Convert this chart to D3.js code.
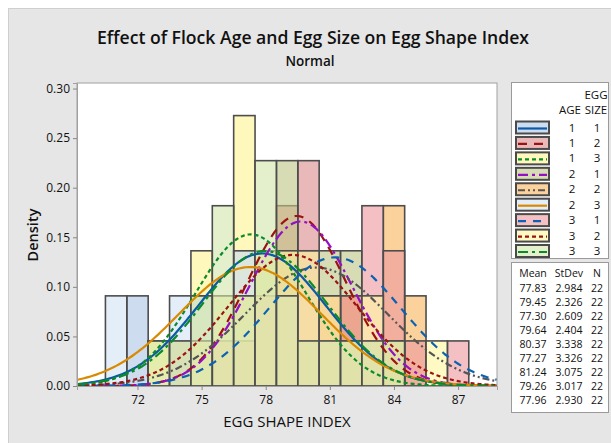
<!DOCTYPE html>
<html>
<head>
<meta charset="utf-8">
<script src="https://d3js.org/d3.v7.min.js"></script>
<style>
  body { margin: 0; background: #fff; }
  text { font-family: "Open Sans", "Noto Sans", sans-serif; fill: #111; }
</style>
</head>
<body>
<div id="chart"></div>
<script>
// Groups: flock age x egg size
var ages = [1, 1, 1, 2, 2, 2, 3, 3, 3];
var sizes = [1, 2, 3, 1, 2, 3, 1, 2, 3];
var means = [77.83, 79.45, 77.30, 79.64, 80.37, 77.27, 81.24, 79.26, 77.96];
var stdevs = [2.984, 2.326, 2.609, 2.404, 3.338, 3.326, 3.075, 3.017, 2.930];
var ns = [22, 22, 22, 22, 22, 22, 22, 22, 22];

// Bin centres (bin width 1) and counts per group
var binCenters = [70, 71, 72, 73, 74, 75, 76, 77, 78, 79, 80, 81, 82, 83, 84, 85, 86, 87, 88];
var counts11 = [0, 0, 2, 0, 1, 2, 2, 3, 3, 3, 2, 1, 1, 1, 1, 0, 0, 0, 0];
var counts12 = [0, 0, 0, 0, 0, 1, 1, 2, 3, 4, 5, 2, 2, 1, 1, 0, 0, 0, 0];
var counts13 = [0, 0, 0, 1, 1, 3, 2, 6, 3, 2, 2, 1, 0, 1, 0, 0, 0, 0, 0];
var counts21 = [0, 0, 0, 0, 1, 0, 1, 1, 3, 5, 3, 3, 3, 1, 1, 0, 0, 0, 0];
var counts22 = [0, 0, 0, 0, 1, 1, 1, 2, 2, 2, 2, 2, 2, 1, 4, 2, 0, 0, 0];
var counts23 = [0, 2, 0, 0, 2, 2, 2, 3, 3, 2, 3, 1, 1, 1, 0, 0, 0, 0, 0];
var counts31 = [0, 0, 0, 0, 0, 0, 1, 1, 2, 2, 3, 2, 2, 4, 3, 1, 0, 1, 0];
var counts32 = [0, 0, 0, 1, 0, 1, 2, 2, 3, 3, 3, 2, 1, 2, 1, 0, 1, 0, 0];
var counts33 = [0, 0, 0, 1, 1, 2, 4, 2, 5, 2, 1, 1, 1, 1, 1, 0, 0, 0, 0];
var countsByGroup = [counts11, counts12, counts13, counts21, counts22, counts23, counts31, counts32, counts33];

var xTicks = [72, 75, 78, 81, 84, 87];
var yTicks = [0, 0.05, 0.10, 0.15, 0.20, 0.25, 0.30];

// Styling per group (colour as seen on white, line colour, dash)
var fillColors = ["#cddcef", "#e9b8b8", "#fff8bc", "#d8dcb4", "#fcd29c", "#e4eef8", "#f4c0c4", "#fffac4", "#e4f0cc"];
var lineColors = ["#0b5aa8", "#9c1212", "#0a8a2a", "#9410c4", "#555555", "#d98a00", "#0b62b4", "#9c1212", "#0a8a2a"];
var dashes = ["none", "9,7", "4,3", "10,4,3,4", "7,3,2,3,2,3", "none", "8,7", "4,3", "10,4,3,4"];
var alpha = 0.62;

var W = 611, H = 443;
var svg = d3.select("#chart").append("svg").attr("width", W).attr("height", H);

// outer panel
svg.append("rect").attr("x", 8.5).attr("y", 8.5).attr("width", W).attr("height", H)
    .attr("fill", "#e6e6e6").attr("stroke", "#cfcfcf");

// titles
svg.append("text").attr("x", 313).attr("y", 44).attr("text-anchor", "middle")
    .style("font-size", "17.6px").style("font-weight", 600)
    .text("Effect of Flock Age and Egg Size on Egg Shape Index");
svg.append("text").attr("x", 310).attr("y", 66).attr("text-anchor", "middle")
    .style("font-size", "13.5px").style("font-weight", 600)
    .text("Normal");

var plot = { left: 77, right: 497, top: 83, bottom: 386 };

var x = d3.scaleLinear().domain([69.17, 88.82]).range([plot.left, plot.right]);
var y = d3.scaleLinear().domain([0, 0.3056]).range([plot.bottom, plot.top]);

svg.append("rect").attr("x", plot.left).attr("y", plot.top)
    .attr("width", plot.right - plot.left).attr("height", plot.bottom - plot.top)
    .attr("fill", "#fff").attr("stroke", "#a0a0a0");

svg.append("clipPath").attr("id", "plotclip").append("rect")
    .attr("x", plot.left).attr("y", plot.top)
    .attr("width", plot.right - plot.left).attr("height", plot.bottom - plot.top);

// base colour that gives the legend colour when drawn at alpha on white
function baseColor(c) {
    var r = d3.rgb(c);
    var f = v => Math.max(0, Math.round(255 - (255 - v) / alpha));
    return d3.rgb(f(r.r), f(r.g), f(r.b)).formatHex();
}

// histograms
var bars = svg.append("g").attr("clip-path", "url(#plotclip)");
countsByGroup.forEach(function (counts, g) {
    var data = binCenters.map((c, i) => ({ c: c, dens: counts[i] / (ns[g] * 1) }))
        .filter(d => d.dens > 0);
    bars.append("g").selectAll("rect").data(data).enter().append("rect")
        .attr("x", d => x(d.c - 0.5))
        .attr("width", d => x(d.c + 0.5) - x(d.c - 0.5))
        .attr("y", d => y(d.dens))
        .attr("height", d => y(0) - y(d.dens))
        .attr("fill", baseColor(fillColors[g]))
        .attr("fill-opacity", alpha)
        .attr("stroke", "#4d4d4d")
        .attr("stroke-width", 1.6);
});

// fitted normal curves
var curveX = d3.range(69.2, 88.81, 0.1);
var line = d3.line().x(d => x(d[0])).y(d => y(d[1]));
var curves = svg.append("g").attr("clip-path", "url(#plotclip)");
means.forEach(function (m, g) {
    var s = stdevs[g];
    var pts = curveX.map(v => [v, Math.exp(-0.5 * Math.pow((v - m) / s, 2)) / (s * Math.sqrt(2 * Math.PI))]);
    curves.append("path").datum(pts)
        .attr("fill", "none")
        .attr("stroke", lineColors[g])
        .attr("stroke-width", 2.2)
        .attr("stroke-dasharray", dashes[g])
        .attr("d", line);
});

// axes
var xAxis = svg.append("g").attr("transform", "translate(0," + plot.bottom + ")")
    .call(d3.axisBottom(x).tickValues(xTicks).tickSize(4).tickPadding(5));
var yAxis = svg.append("g").attr("transform", "translate(" + plot.left + ",0)")
    .call(d3.axisLeft(y).tickValues(yTicks).tickFormat(d3.format(".2f")).tickSize(4).tickPadding(3));
[xAxis, yAxis].forEach(function (a) {
    a.select(".domain").attr("stroke", "#a0a0a0");
    a.selectAll(".tick line").attr("stroke", "#888");
    a.selectAll(".tick text").style("font-size", "12px").style("font-family", "'Open Sans', sans-serif").attr("fill", "#111");
});

svg.append("text").attr("x", 287).attr("y", 427).attr("text-anchor", "middle")
    .style("font-size", "15px").text("EGG SHAPE INDEX");
svg.append("text").attr("transform", "translate(38,235) rotate(-90)").attr("text-anchor", "middle")
    .style("font-size", "14.5px").style("font-weight", 600).text("Density");

// legend
var lg = svg.append("g");
var lgFont = "11.5px";
lg.append("rect").attr("x", 511.5).attr("y", 82.5).attr("width", 97).attr("height", 176)
    .attr("fill", "#fff").attr("stroke", "#9a9a9a");
lg.append("text").attr("x", 596).attr("y", 99).attr("text-anchor", "middle").style("font-size", lgFont).text("EGG");
lg.append("text").attr("x", 570).attr("y", 114).attr("text-anchor", "middle").style("font-size", lgFont).text("AGE");
lg.append("text").attr("x", 596).attr("y", 114).attr("text-anchor", "middle").style("font-size", lgFont).text("SIZE");

var rowY = d3.scaleLinear().domain([0, 8]).range([127.5, 251]);
ages.forEach(function (a, g) {
    var cy = rowY(g);
    lg.append("rect").attr("x", 516).attr("y", cy - 6).attr("width", 33).attr("height", 12)
        .attr("fill", fillColors[g]).attr("stroke", "#4a4a4a").attr("stroke-width", 2);
    lg.append("line").attr("x1", 518).attr("x2", 547).attr("y1", cy + 1).attr("y2", cy + 1)
        .attr("stroke", lineColors[g]).attr("stroke-width", 2.2).attr("stroke-dasharray", dashes[g]);
    lg.append("text").attr("x", 572).attr("y", cy + 4).attr("text-anchor", "middle").style("font-size", lgFont).text(a);
    lg.append("text").attr("x", 597).attr("y", cy + 4).attr("text-anchor", "middle").style("font-size", lgFont).text(sizes[g]);
});

// summary table
var tb = svg.append("g");
tb.append("rect").attr("x", 511.5).attr("y", 262.5).attr("width", 97).attr("height", 150)
    .attr("fill", "#fff").attr("stroke", "#9a9a9a");
var colX = [533, 569, 597];
["Mean", "StDev", "N"].forEach((h, i) => tb.append("text").attr("x", colX[i]).attr("y", 277)
    .attr("text-anchor", "middle").style("font-size", "10.5px").text(h));
var tRowY = d3.scaleLinear().domain([0, 8]).range([292, 404]);
means.forEach(function (m, g) {
    var vals = [m.toFixed(2), stdevs[g].toFixed(3), ns[g]];
    vals.forEach((v, i) => tb.append("text").attr("x", colX[i]).attr("y", tRowY(g))
        .attr("text-anchor", "middle").style("font-size", "10.5px").text(v));
});
</script>
</body>
</html>
